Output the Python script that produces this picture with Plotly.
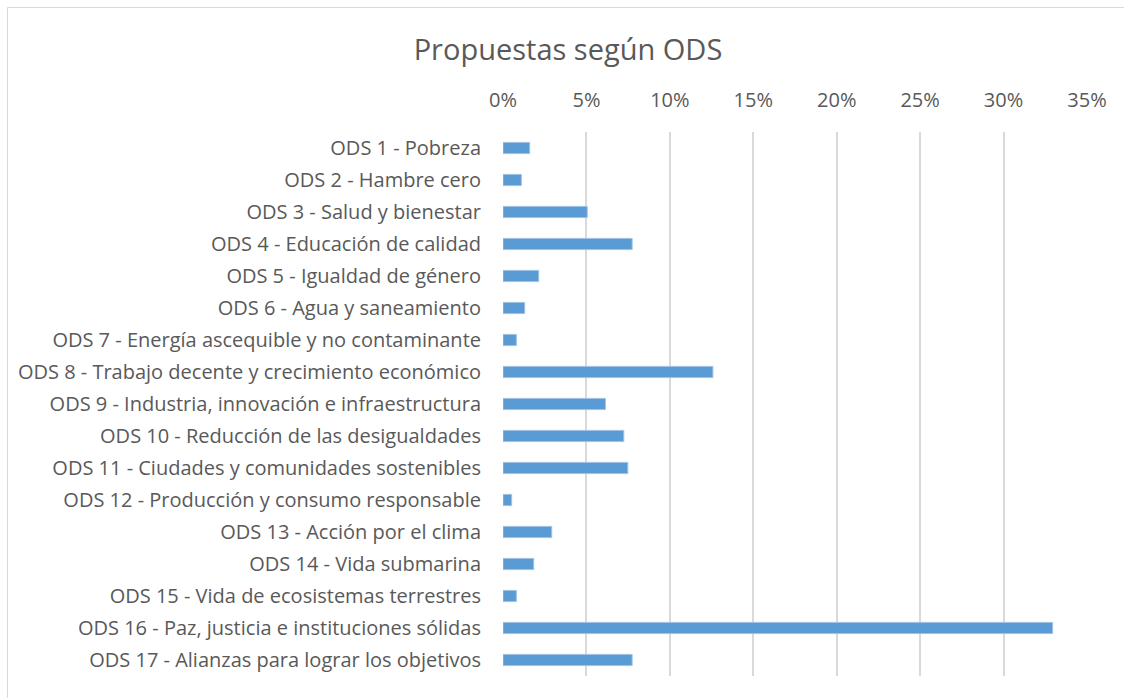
import plotly.graph_objects as go

categories = [
    "ODS 1 - Pobreza",
    "ODS 2 - Hambre cero",
    "ODS 3 - Salud y bienestar",
    "ODS 4 - Educación de calidad",
    "ODS 5 - Igualdad de género",
    "ODS 6 - Agua y saneamiento",
    "ODS 7 - Energía ascequible y no contaminante",
    "ODS 8 - Trabajo decente y crecimiento económico",
    "ODS 9 - Industria, innovación e infraestructura",
    "ODS 10 - Reducción de las desigualdades",
    "ODS 11 - Ciudades y comunidades sostenibles",
    "ODS 12 - Producción y consumo responsable",
    "ODS 13 - Acción por el clima",
    "ODS 14 - Vida submarina",
    "ODS 15 - Vida de ecosistemas terrestres",
    "ODS 16 - Paz, justicia e instituciones sólidas",
    "ODS 17 - Alianzas para lograr los objetivos",
]
values = [0.016, 0.011, 0.0505, 0.0774, 0.0214, 0.013, 0.008, 0.1258, 0.0614,
          0.0724, 0.0748, 0.0052, 0.0292, 0.0184, 0.008, 0.3294, 0.0774]
tick_vals = [0, 0.05, 0.10, 0.15, 0.20, 0.25, 0.30, 0.35]
tick_text = ["0%", "5%", "10%", "15%", "20%", "25%", "30%", "35%"]
title_text = "Propuestas según ODS"

W, H = 1124, 698
L, R, T, B = 503, 1087, 132, 676

fig = go.Figure(go.Bar(
    y=categories, x=values, orientation="h",
    marker=dict(color="#5b9bd5", line=dict(color="#9dc3e6", width=1)),
    width=0.35,
))

def px_to_paper_x(px):
    return (px - L) / (R - L)

def px_to_paper_y(py):
    return (B - py) / (B - T)

fig.add_shape(type="rect", xref="paper", yref="paper",
              x0=px_to_paper_x(7.5), x1=px_to_paper_x(1140),
              y0=px_to_paper_y(720), y1=px_to_paper_y(7.5),
              line=dict(color="#d9d9d9", width=1), fillcolor="rgba(0,0,0,0)", layer="below")

FONT = "Open Sans, Carlito, Calibri, sans-serif"
fig.update_layout(
    width=W, height=H,
    margin=dict(l=L, r=W - R, t=T, b=H - B, pad=0),
    paper_bgcolor="white", plot_bgcolor="white",
    font=dict(family=FONT, color="#595959", size=20),
    title=dict(text=title_text, x=568 / W, xanchor="center",
               y=1 - 50 / H, yanchor="middle",
               font=dict(size=29, color="#595959")),
    showlegend=False,
    xaxis=dict(side="top", range=[0, 0.35], tickvals=tick_vals, ticktext=tick_text,
               showgrid=True, gridcolor="#d9d9d9", gridwidth=1.5, zeroline=False,
               showline=False, ticks="", ticklabelstandoff=20,
               tickfont=dict(size=20, color="#595959")),
    yaxis=dict(autorange="reversed", showgrid=False, zeroline=False, showline=False,
               ticks="", ticklabelstandoff=21, tickfont=dict(size=20, color="#595959")),
)
fig.write_html("out.html", config={"displayModeBar": False},
               post_script="document.body.style.margin='0';document.body.style.overflow='hidden';")
